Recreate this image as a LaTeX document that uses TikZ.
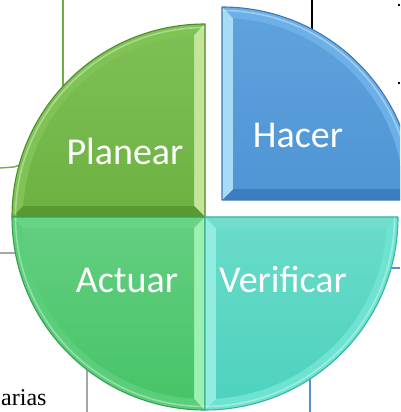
\documentclass[tikz,border=0pt]{standalone}
\usepackage{fontspec}
\newfontfamily\labfont{Carlito}
\newfontfamily\docfont{Liberation Serif}
\definecolor{plBase}{HTML}{6EB243}
\definecolor{plTop}{HTML}{7DBF55}
\definecolor{plBand}{HTML}{7EC353}
\definecolor{plA}{HTML}{C3E59A}
\definecolor{plB}{HTML}{5A9833}
\definecolor{plLine}{HTML}{4E8A2C}
\definecolor{haBase}{HTML}{5096D4}
\definecolor{haTop}{HTML}{5EA2DD}
\definecolor{haBand}{HTML}{6CB0E8}
\definecolor{haA}{HTML}{3F7EBE}
\definecolor{haB}{HTML}{A6DCF6}
\definecolor{haLine}{HTML}{3D78B5}
\definecolor{acBase}{HTML}{48C468}
\definecolor{acTop}{HTML}{62CE80}
\definecolor{acBand}{HTML}{5ACE7A}
\definecolor{acA}{HTML}{6AD486}
\definecolor{acB}{HTML}{9CF0B2}
\definecolor{acLine}{HTML}{38A052}
\definecolor{veBase}{HTML}{4ED2BE}
\definecolor{veTop}{HTML}{68DBC9}
\definecolor{veBand}{HTML}{6EE3D1}
\definecolor{veA}{HTML}{92ECDF}
\definecolor{veB}{HTML}{72DDCC}
\definecolor{veLine}{HTML}{3AB4A1}
\definecolor{bgGreen}{HTML}{6DAE45}
\definecolor{bgGray}{HTML}{A6A6A6}
\definecolor{bgBlue}{HTML}{5B8BD6}
\tikzset{
  lab/.style={text=white, font=\labfont\fontsize{38}{40}\selectfont, anchor=base, inner sep=0pt},
  bgline/.style={line width=1.4pt},
}
% #1 corner x, #2 corner y, #3 start angle, #4 outline, #5 band, #6 face A, #7 face B, #8 inner top, #9 inner bottom
\newcommand{\bevslice}[9]{%
  \begin{scope}[shift={(#1,#2)}]
    \pgfmathsetmacro{\sa}{#3}
    \pgfmathsetmacro{\sb}{#3+90}
    \pgfmathsetmacro{\ia}{#3+3.465}
    \pgfmathsetmacro{\ib}{#3+86.535}
    \pgfmathsetmacro{\ic}{#3+45}
    \fill[#5] (0,0) -- (\sa:193) arc[start angle=\sa, end angle=\sb, radius=193] -- cycle;
    \fill[#6] (0,0) -- (\sa:193) -- (\ia:182) -- (\ic:15.556) -- cycle;
    \fill[#7] (0,0) -- (\sb:193) -- (\ib:182) -- (\ic:15.556) -- cycle;
    \shade[top color=#8, bottom color=#9] (\ic:15.556) -- (\ia:182) arc[start angle=\ia, end angle=\ib, radius=182] -- cycle;
    \draw[white, opacity=0.35, line width=1.6pt] (\sa:189.5) arc[start angle=\sa, end angle=\sb, radius=189.5];
    \draw[#4, line width=1.1pt, line join=round] (0,0) -- (\sa:193) arc[start angle=\sa, end angle=\sb, radius=193] -- cycle;
  \end{scope}}
\begin{document}
\begin{tikzpicture}[x=1pt,y=1pt]
\useasboundingbox (0,0) rectangle (400,412);
\clip (0,0) rectangle (400,412);
\fill[white] (0,0) rectangle (400,412);
% background remnants of the page
\draw[bgline, bgGreen] (63,412) -- (63,300);
\draw[bgline, bgGreen] (0,244) -- (14,245) -- (22,248);
\draw[bgline, bgGray] (0,159) -- (20,159);
\draw[bgline, bgGray] (87,0) -- (87,45);
\draw[bgline, black] (312,412) -- (312,383);
\draw[bgline, bgBlue] (380,144) -- (400,144);
\draw[bgline, bgBlue] (310,0) -- (310,40);
\draw[line width=1.2pt, black] (399,408) -- (399,406);
\draw[line width=1.2pt, black] (399,330) -- (399,328);
\node[anchor=base west, inner sep=0pt, font=\docfont\fontsize{24}{26}\selectfont] (doc) at (1,6) {arias};
% pie slices
\bevslice{205}{195}{90}{plLine}{plBand}{plA}{plB}{plTop}{plBase}
\bevslice{205}{195}{180}{acLine}{acBand}{acA}{acB}{acTop}{acBase}
\bevslice{205}{195}{270}{veLine}{veBand}{veA}{veB}{veTop}{veBase}
\bevslice{222}{212}{0}{haLine}{haBand}{haA}{haB}{haTop}{haBase}
% labels
\node[lab] (planear) at (125,247) {Planear};
\node[lab] (hacer) at (298,264) {Hacer};
\node[lab] (actuar) at (127,119) {Actuar};
\node[lab] (verificar) at (283,119) {Verificar};
\end{tikzpicture}
\end{document}
